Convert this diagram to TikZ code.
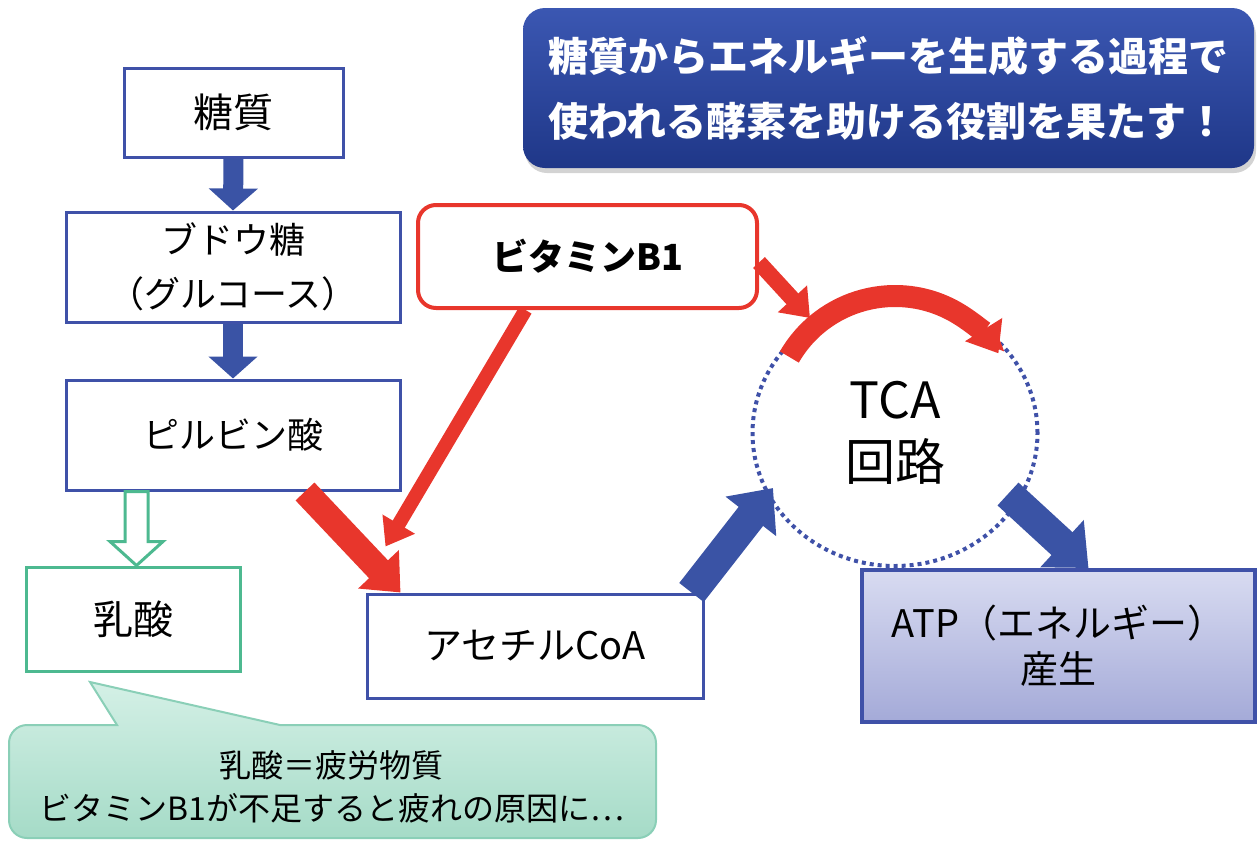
\documentclass[tikz,border=0pt]{standalone}
\usepackage{fontspec}
\setmainfont{Noto Sans CJK JP}
\usetikzlibrary{arrows.meta,shapes.geometric,shadows,calc}
\definecolor{bxblue}{HTML}{3F51A8}
\definecolor{arblue}{HTML}{3A53A5}
\definecolor{myred}{HTML}{E8362C}
\definecolor{mygreen}{HTML}{4DB990}
\definecolor{bannertop}{HTML}{3B57B2}
\definecolor{bannerbot}{HTML}{1F3788}
\definecolor{atptop}{HTML}{D8DBF1}
\definecolor{atpbot}{HTML}{A4AAD8}
\definecolor{caltop}{HTML}{D4F0E6}
\definecolor{calbot}{HTML}{A5DBC7}
\definecolor{calborder}{HTML}{8ACFB7}
\begin{document}
\begin{tikzpicture}[x=1pt,y=-1pt,
  bbox/.style={draw=bxblue, line width=3pt, fill=white, inner sep=0pt, align=center, text=black,
    font=\fontsize{36}{54}\selectfont},
  gbox/.style={draw=mygreen, line width=3pt, fill=white, inner sep=0pt, align=center, text=black,
    font=\fontsize{40}{54}\selectfont},
  rbox/.style={draw=myred, line width=4pt, fill=white, rounded corners=18pt, inner sep=0pt,
    align=center, text=black, font=\fontsize{36}{54}\selectfont\bfseries},
  bluearr/.style={draw=arblue, line width=20pt, -{Triangle[width=48pt,length=22pt]}},
  bigblue/.style={draw=arblue, line width=31pt, -{Triangle[width=62pt,length=36pt]}},
  redthick/.style={draw=myred, line width=26pt, -{Triangle[width=54pt,length=32pt]}},
  redthin/.style={draw=myred, line width=14pt, -{Triangle[width=36pt,length=26pt]}},
  redmid/.style={draw=myred, line width=16pt, -{Triangle[width=38pt,length=26pt]}},
  redarc/.style={draw=myred, line width=22pt, -{Triangle[width=42pt,length=28pt]}},
  hollowarr/.style={draw=mygreen, line width=3pt, fill=white, line join=miter},
]
\useasboundingbox (0,0) rectangle (1258,841);

% banner
\node[draw=none, rounded corners=22pt, top color=bannertop, bottom color=bannerbot,
  minimum width=731pt, minimum height=160pt, inner sep=0pt,
  drop shadow={shadow xshift=2pt, shadow yshift=-5pt, opacity=0.35},
  text=white, align=left, font=\fontsize{40}{65}\selectfont\bfseries] (banner) at (888.5,88)
  {糖質からエネルギーを生成する過程で\\使われる酵素を助ける役割を果たす！};

% callout
\path[draw=calborder, line width=2pt, top color=caltop, bottom color=calbot]
  (117,725) -- (90,682) -- (280,725)
  {[rounded corners=18pt] -- (656,725) -- (656,838) -- (9,838) -- (9,725)} -- cycle;
\node[align=center, text=black, font=\fontsize{32}{43}\selectfont] (calltext) at (332,787)
  {乳酸＝疲労物質\\ビタミンB1が不足すると疲れの原因に⋯};

% boxes
\node[bbox, minimum width=219pt, minimum height=89pt, font=\fontsize{40}{54}\selectfont] (sugar) at (233.5,112.5) {糖質};
\node[bbox, minimum width=334pt, minimum height=110pt] (glucose) at (233,267) {ブドウ糖\\（グルコース）};
\node[bbox, minimum width=334pt, minimum height=110pt] (pyr) at (233,435) {ピルビン酸};
\node[gbox, minimum width=214pt, minimum height=104pt] (lac) at (133,619) {乳酸};
\node[bbox, minimum width=336pt, minimum height=104pt, font=\fontsize{38}{54}\selectfont] (acetyl) at (535,646) {アセチルCoA};
\node[rbox, minimum width=339pt, minimum height=103pt] (b1) at (587.5,256.5) {ビタミンB1};
\node[draw=bxblue, ellipse, line width=4pt, dash pattern=on 4pt off 4pt,
  minimum width=285pt, minimum height=266pt, inner sep=0pt, align=center,
  font=\fontsize{50}{62}\selectfont] (tca) at (895,433) {TCA\\回路};
\node[draw=bxblue, line width=4pt, top color=atptop, bottom color=atpbot,
  minimum width=393pt, minimum height=152pt, inner sep=0pt, align=center,
  font=\fontsize{38}{46}\selectfont] (atp) at (1058.5,646) {ATP（エネルギー）\\産生};

% blue vertical arrows
\draw[bluearr] (sugar.south) -- (glucose.north);
\draw[bluearr] (glucose.south) -- (pyr.north);

% hollow green arrow
\coordinate (ht) at ([xshift=3.5pt]lac.north);
\draw[hollowarr] (ht) -- ($(ht)+(-26.5,-24)$) -- ($(ht)+(-11.5,-24)$)
  -- ($(ht |- pyr.south)+(-11.5,0)$) -- ($(ht |- pyr.south)+(11.5,0)$)
  -- ($(ht)+(11.5,-24)$) -- ($(ht)+(26.5,-24)$) -- cycle;

% red arrows
\draw[redthick] ([xshift=72pt]pyr.south) -- ([xshift=35pt]acetyl.north west);
\coordinate (acin) at ([shift={(20,-46)}]acetyl.north west);
\draw[redthin] ([xshift=-62pt]b1.south) -- (acin);
\coordinate (ac) at ([shift={(0,-15)}]tca.center);
\draw[redarc] ([shift={(-150:122)}]ac) arc[start angle=-150, end angle=-32, radius=122];
\coordinate (arcin) at ([shift={(-85,-115)}]tca.center);
\draw[redmid] ([shift={(0,6)}]b1.east) -- (arcin);

% blue big arrows
\coordinate (tcain) at ([shift={(-122,55)}]tca.center);
\draw[bigblue] ([xshift=-13pt]acetyl.north east) -- (tcain);
\coordinate (tcaout) at ([shift={(113,61)}]tca.center);
\draw[bigblue] (tcaout) -- ([xshift=30pt]atp.north);
\end{tikzpicture}
\end{document}
